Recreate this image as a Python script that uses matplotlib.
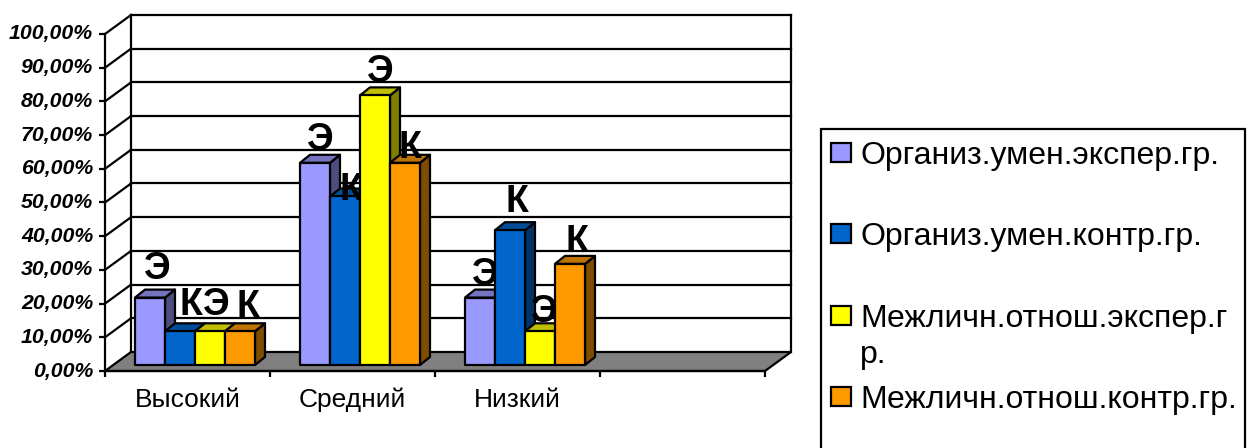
import matplotlib
matplotlib.use("Agg")
import matplotlib.pyplot as plt
from matplotlib.patches import Polygon, Rectangle

plt.rcParams['font.family'] = ['Liberation Sans', 'DejaVu Sans']

# data
categories = ['Высокий', 'Средний', 'Низкий']
series_names = ['Организ.умен.экспер.гр.', 'Организ.умен.контр.гр.',
                'Межличн.отнош.экспер.г\nр.', 'Межличн.отнош.контр.гр.']
org_exp = [20, 60, 20]
org_ctrl = [10, 50, 40]
rel_exp = [10, 80, 10]
rel_ctrl = [10, 60, 30]
series_values = [org_exp, org_ctrl, rel_exp, rel_ctrl]
series_marks = ['Э', 'К', 'Э', 'К']
y_ticks = list(range(0, 101, 10))
n_slots = 4

# colours: front, top, side
front_colors = ['#9999FF', '#0066CC', '#FFFF00', '#FF9900']
top_colors = ['#7373BF', '#004C99', '#BFBF00', '#BF7300']
side_colors = ['#4D4D80', '#003366', '#808000', '#804D00']

# layout, in pixels of the 1252x448 picture
W, H = 1252, 448
PLOT_L, PLOT_R, PLOT_T, PLOT_B = 105, 765, 34, 371
WALL_DX, WALL_DY = 26, 19
BAR_W, BAR_DX, BAR_DY = 30, 10, 8
BAR_OFF_X, BAR_OFF_Y = 7.5, 6
LW = 1.6
# label nudges (px from the bar's top centre), same order as the series
label_nudge = [
    [(7, 19), (11, 16), (6, 16), (8, 14)],
    [(5, 13), (6, -4), (5, 13), (5, 5)],
    [(5, 13), (7, 18), (4, 9), (7, 12)],
]

fig = plt.figure(figsize=(W / 100, H / 100), dpi=100)
ax = fig.add_axes([PLOT_L / W, 1 - PLOT_B / H, (PLOT_R - PLOT_L) / W, (PLOT_B - PLOT_T) / H])
ax.set_xlim(0, n_slots)
ax.set_ylim(0, 100)
ax.patch.set_alpha(0)

px_x = n_slots / (PLOT_R - PLOT_L)
px_y = 100 / (PLOT_B - PLOT_T)
wall_dx, wall_dy = WALL_DX * px_x, WALL_DY * px_y

# axes
for side in ['top', 'right']:
    ax.spines[side].set_visible(False)
for side in ['left', 'bottom']:
    ax.spines[side].set_linewidth(LW)
    ax.spines[side].set_zorder(30)
ax.set_yticks(y_ticks)
ax.set_yticklabels([f'{v:.2f}%'.replace('.', ',') for v in y_ticks],
                   fontsize=15.3, fontweight='bold', fontstyle='italic', va='center')
ax.set_xticks(range(n_slots + 1))
ax.set_xticklabels([])
ax.set_xticks([i + 0.5 for i in range(len(categories))], categories, minor=True, fontsize=19)
ax.tick_params(axis='y', length=4.5, width=LW, pad=4)
ax.tick_params(axis='x', which='major', length=4.5, width=LW)
ax.tick_params(axis='x', which='minor', length=0, pad=12)

# floor and walls
ax.add_patch(Polygon([(0, 0), (n_slots, 0), (n_slots + wall_dx, wall_dy), (wall_dx, wall_dy)],
                     closed=True, fc='#808080', ec='black', lw=LW, zorder=2, clip_on=False))
for v in y_ticks[1:]:
    ax.plot([wall_dx, n_slots + wall_dx], [v + wall_dy] * 2, color='black', lw=LW, zorder=1, clip_on=False)
    ax.plot([0, wall_dx], [v, v + wall_dy], color='black', lw=LW, zorder=1, clip_on=False)
ax.plot([wall_dx, wall_dx], [wall_dy, 100 + wall_dy], color='black', lw=LW, zorder=1, clip_on=False)
ax.plot([n_slots + wall_dx] * 2, [wall_dy, 100 + wall_dy], color='black', lw=LW, zorder=1, clip_on=False)

# bars, each label right after its own bar so later bars cover it
bar_w = BAR_W * px_x
bar_dx, bar_dy = BAR_DX * px_x, BAR_DY * px_y
z = 3
for c in range(len(categories)):
    start = c + ((PLOT_R - PLOT_L) / n_slots - 4 * BAR_W) / 2 * px_x + BAR_OFF_X * px_x
    base = BAR_OFF_Y * px_y
    for s, values in enumerate(series_values):
        x0 = start + s * bar_w
        x1 = x0 + bar_w
        top = base + values[c]
        style = dict(closed=True, ec='black', lw=LW, zorder=z, clip_on=False, joinstyle='round')
        ax.add_patch(Polygon([(x1, base), (x1 + bar_dx, base + bar_dy), (x1 + bar_dx, top + bar_dy), (x1, top)],
                             fc=side_colors[s], **style))
        ax.add_patch(Polygon([(x0, top), (x1, top), (x1 + bar_dx, top + bar_dy), (x0 + bar_dx, top + bar_dy)],
                             fc=top_colors[s], **style))
        ax.add_patch(Polygon([(x0, base), (x1, base), (x1, top), (x0, top)], fc=front_colors[s], **style))
        nudge = label_nudge[c][s]
        ax.annotate(series_marks[s], xy=((x0 + x1) / 2, top), xytext=nudge, textcoords='offset pixels',
                    ha='center', va='baseline', fontsize=27, fontweight='bold', color='black',
                    zorder=z + 0.5, annotation_clip=False)
        z += 1

# legend, drawn on a second axes in picture pixels; its box runs off the bottom
leg = fig.add_axes([0, 0, 1, 1])
leg.set_xlim(0, W)
leg.set_ylim(H, 0)
leg.axis('off')
leg.add_patch(Rectangle((821, 129), 424, 340, fc='white', ec='black', lw=LW))
legend_y = [153, 234, 316, 397]
for name, color, y in zip(series_names, front_colors, legend_y):
    leg.add_patch(Rectangle((831, y - 10), 20, 19, fc=color, ec='black', lw=LW))
    for i, line in enumerate(name.split('\n')):
        leg.text(860, y + 11 + i * 36, line, fontsize=23, va='baseline')

fig.savefig('out.png', dpi=100)
